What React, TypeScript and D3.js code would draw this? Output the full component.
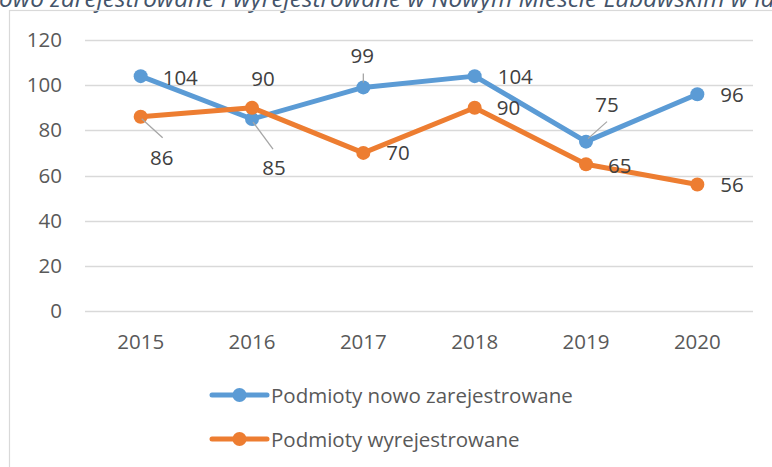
import React, { useLayoutEffect, useRef, useState } from "react";
import * as d3 from "d3";

const years = ["2015", "2016", "2017", "2018", "2019", "2020"];
const registered = [104, 85, 99, 104, 75, 96];
const deregistered = [86, 90, 70, 90, 65, 56];
const yTicks = [0, 20, 40, 60, 80, 100, 120];
const seriesNames = ["Podmioty nowo zarejestrowane", "Podmioty wyrejestrowane"];
const title =
  "Podmioty nowo zarejestrowane i wyrejestrowane w Nowym Mieście Lubawskim w latach 2015-2020";

// label layout: [dx, dy, anchor, leaderFrom?, leaderTo?]
type Lab = { dx: number; dy: number; anchor: string; leader?: [number, number, number, number] };
const blueLabels: Lab[] = [
  { dx: 22, dy: 9, anchor: "start" },
  { dx: 22, dy: 56, anchor: "middle", leader: [1, 3, 21, 30] },
  { dx: -1, dy: -24, anchor: "middle", leader: [0, -5, 0, -14] },
  { dx: 23, dy: 8, anchor: "start" },
  { dx: 21, dy: -30, anchor: "middle", leader: [2, -3, 21, -20] },
  { dx: 23, dy: 8, anchor: "start" },
];
const orangeLabels: Lab[] = [
  { dx: 21, dy: 48, anchor: "middle", leader: [1, 2, 22, 21] },
  { dx: 11, dy: -22, anchor: "middle" },
  { dx: 23, dy: 7, anchor: "start" },
  { dx: 22, dy: 7, anchor: "start" },
  { dx: 22, dy: 9, anchor: "start" },
  { dx: 23, dy: 7.5, anchor: "start" },
];

const W = 772;
const H = 467;
const FONT = "'Open Sans', 'Noto Sans', sans-serif";
const BLUE = "#5B9BD5";
const ORANGE = "#ED7D31";

export default function App() {
  const titleRef = useRef<SVGTextElement>(null);
  const [titleX, setTitleX] = useState(0);

  useLayoutEffect(() => {
    const el = titleRef.current;
    if (el) {
      const pre = el.getSubStringLength(0, 10); // "Podmioty n"
      setTitleX(-pre - 1);
    }
  }, []);

  const x = d3.scaleBand<string>().domain(years).range([85, 753]).padding(0);
  const y = d3.scaleLinear().domain([0, 120]).range([311, 40]);
  const cx = (d: string) => (x(d) as number) + x.bandwidth() / 2;

  const line = d3
    .line<number>()
    .x((_, i) => cx(years[i]))
    .y((v) => y(v));

  const series = [
    { name: seriesNames[0], values: registered, color: BLUE, labels: blueLabels },
    { name: seriesNames[1], values: deregistered, color: ORANGE, labels: orangeLabels },
  ];

  return (
    <svg
      width={W}
      height={H}
      style={{ position: "absolute", left: 0, top: 0, background: "#fff" }}
      fontFamily={FONT}
    >
      <rect x={0} y={0} width={W} height={H} fill="#fff" />
      <text
        ref={titleRef}
        x={titleX}
        y={7}
        fontSize={24.4}
        fontStyle="italic"
        fill="#44546A"
      >
        {title}
      </text>
      <rect x={9.5} y={10.5} width={W + 20} height={H + 20} fill="none" stroke="#D9D9D9" strokeWidth={1.2} />

      {yTicks.map((t) => (
        <g key={t}>
          <line x1={85} x2={753} y1={Math.round(y(t)) + 0.5} y2={Math.round(y(t)) + 0.5} stroke="#D9D9D9" strokeWidth={1.3} />
          <text x={62} y={y(t) + 7} textAnchor="end" fontSize={20.5} fill="#595959">
            {t}
          </text>
        </g>
      ))}

      {years.map((yr) => (
        <text key={yr} x={cx(yr)} y={349} textAnchor="middle" fontSize={20.5} fill="#595959">
          {yr}
        </text>
      ))}

      {series.map((s) => (
        <g key={s.name}>
          <path d={line(s.values) || ""} fill="none" stroke={s.color} strokeWidth={5} strokeLinejoin="round" strokeLinecap="round" />
          {s.values.map((v, i) => (
            <circle key={i} cx={cx(years[i])} cy={y(v)} r={7} fill={s.color} />
          ))}
        </g>
      ))}

      {series.map((s) => (
        <g key={s.name + "-labels"}>
          {s.values.map((v, i) => {
            const px = cx(years[i]);
            const py = y(v);
            const l = s.labels[i];
            return (
              <g key={i}>
                {l.leader && (
                  <line
                    x1={px + l.leader[0]}
                    y1={py + l.leader[1]}
                    x2={px + l.leader[2]}
                    y2={py + l.leader[3]}
                    stroke="#A6A6A6"
                    strokeWidth={1.3}
                  />
                )}
                <text x={px + l.dx} y={py + l.dy} textAnchor={l.anchor as any} fontSize={20.5} fill="#404040">
                  {v}
                </text>
              </g>
            );
          })}
        </g>
      ))}

      {series.map((s, i) => {
        const ly = 395 + i * 44;
        return (
          <g key={s.name + "-legend"}>
            <line x1={212} x2={267} y1={ly} y2={ly} stroke={s.color} strokeWidth={5} strokeLinecap="round" />
            <circle cx={239.5} cy={ly} r={7} fill={s.color} />
            <text x={271} y={ly + 7.5} fontSize={20.5} fill="#595959">
              {s.name}
            </text>
          </g>
        );
      })}
    </svg>
  );
}
